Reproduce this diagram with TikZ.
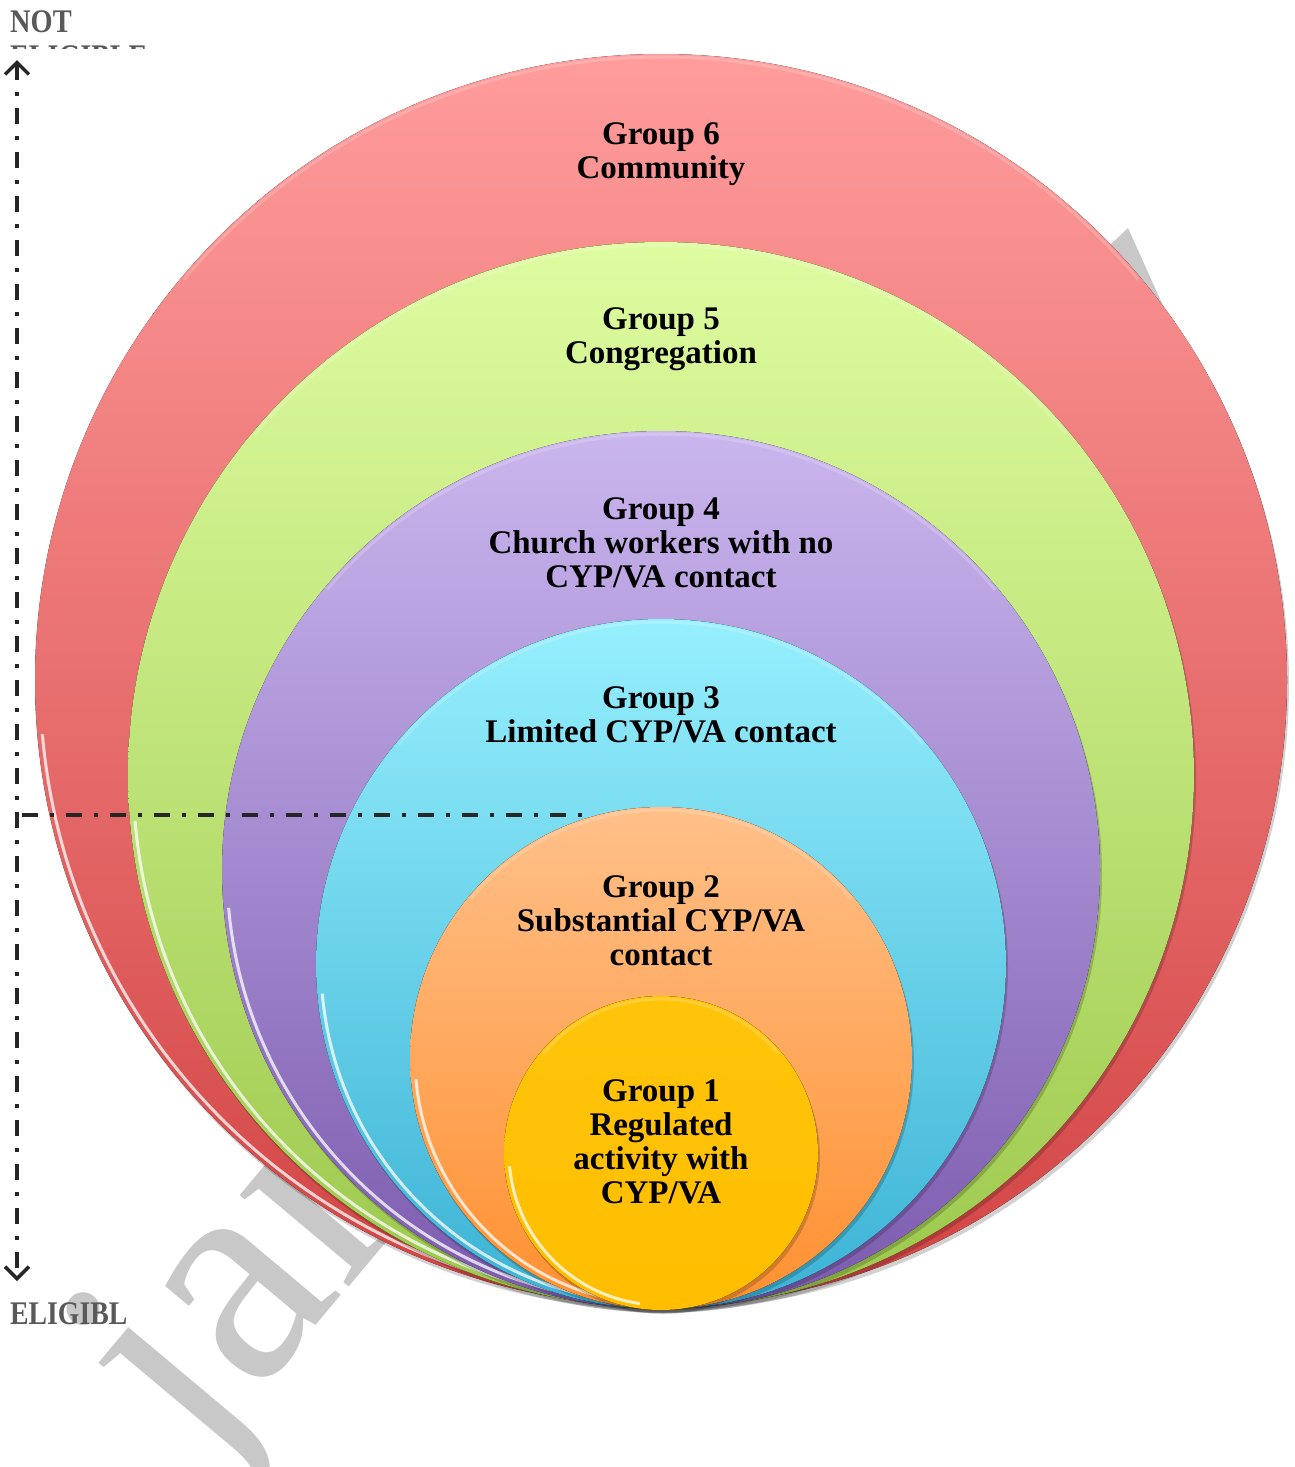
\documentclass[tikz,border=0pt]{standalone}
\usepackage{fontspec}
\setmainfont{Liberation Serif}
\usepackage{graphicx}
\usetikzlibrary{arrows.meta}
\definecolor{wmgray}{HTML}{C8C8C8}
\definecolor{sidegray}{HTML}{595959}
\definecolor{lineblk}{HTML}{262626}
\definecolor{r6t}{HTML}{FF9C9C}\definecolor{r6m}{HTML}{EC7E7E}\definecolor{r6b}{HTML}{D24343}
\definecolor{r5t}{HTML}{DEFCA0}\definecolor{r5m}{HTML}{C6E884}\definecolor{r5b}{HTML}{9CC84C}
\definecolor{r4t}{HTML}{CAB6EE}\definecolor{r4m}{HTML}{B39BDB}\definecolor{r4b}{HTML}{7B5AAE}
\definecolor{r3t}{HTML}{96EFFD}\definecolor{r3m}{HTML}{84E0F4}\definecolor{r3b}{HTML}{3BB2D5}
\definecolor{r2t}{HTML}{FFC089}\definecolor{r2m}{HTML}{FFB06B}\definecolor{r2b}{HTML}{FF9030}
\definecolor{r1t}{HTML}{FFC40A}\definecolor{r1m}{HTML}{FFC000}\definecolor{r1b}{HTML}{FFBE00}
\tikzset{
  ring/.style n args={3}{top color=#1, middle color=#2, bottom color=#3, draw=none},
  ringshadow/.style={fill=black, fill opacity=0.18},
  rim/.style={draw=white, line width=3pt, draw opacity=0.75},
  toprim/.style={draw=white, line width=3pt, draw opacity=0.18},
  lbl/.style={font=\fontsize{33}{34}\selectfont\bfseries, align=center, inner sep=0pt, anchor=north, text=black},
  side/.style={font=\fontsize{33}{34}\selectfont\bfseries, inner sep=0pt, anchor=north west, text=sidegray},
  wm/.style={font=\fontsize{310}{310}\selectfont, text=wmgray, inner sep=0pt},
  dashdot/.style={draw=lineblk, line width=3.5pt, dash pattern=on 16pt off 12pt on 4pt off 12pt},
  barb/.tip={Straight Barb[length=12pt,width=24pt,line width=3.5pt]},
}
\begin{document}
\begin{tikzpicture}[x=1pt,y=-1pt]
\useasboundingbox (0,0) rectangle (1295,1467);
\fill[white] (0,0) rectangle (1295,1467);

% watermark (behind the circles)
\node[wm, rotate=50, anchor=base west] (wm) at (200,1464) {jan};
\fill[wmgray] (1110,245) -- (1128,228) -- (1165,310) -- (1125,310) -- cycle;

% circles, outermost first
\foreach \cy/\r/\t/\m/\b in {680/626/r6t/r6m/r6b, 775/533/r5t/r5m/r5b, 870/439/r4t/r4m/r4b, 964/345/r3t/r3m/r3b, 1058/251/r2t/r2m/r2b, 1153/157/r1t/r1m/r1b}{
  \fill[ringshadow] (663,\cy+4) circle (\r pt);
  \fill[ring={\t}{\m}{\b}] (661,\cy) circle (\r pt);
  \draw[rim] (661,\cy) ++(185:\r pt-5pt) arc[start angle=185, end angle=262, radius=\r pt-5pt];
  \draw[toprim] (661,\cy) ++(40:\r pt-3pt) arc[start angle=40, end angle=140, radius=\r pt-3pt];
}

% labels
\node[lbl] (g6) at (661,122) {Group 6\\Community};
\node[lbl] (g5) at (661,307) {Group 5\\Congregation};
\node[lbl] (g4) at (661,497) {Group 4\\Church workers with no\\CYP/VA contact};
\node[lbl] (g3) at (661,686) {Group 3\\Limited CYP/VA contact};
\node[lbl] (g2) at (661,875) {Group 2\\Substantial CYP/VA\\contact};
\node[lbl] (g1) at (661,1079) {Group 1\\Regulated\\activity with\\CYP/VA};

% side labels
\node[side] (notel) at (10,10) {\scalebox{0.86}[1]{NOT}};
\begin{scope}
  \clip (0,40) rectangle (200,48.5);
  \node[side] (eligtop) at (10,45) {\scalebox{0.85}[1]{ELIGIBLE}};
\end{scope}
\node[side] (eligbot) at (10,1302) {\scalebox{0.84}[1]{ELIGIBL}};

% dash-dot lines
\coordinate (atop) at (17,60);
\coordinate (abot) at (17,1281);
\draw[dashdot, barb-barb] (atop) -- (abot);
\coordinate (hl) at (22,815);
\coordinate (hr) at (585,815);
\draw[dashdot] (hl) -- (hr);
\end{tikzpicture}
\end{document}
